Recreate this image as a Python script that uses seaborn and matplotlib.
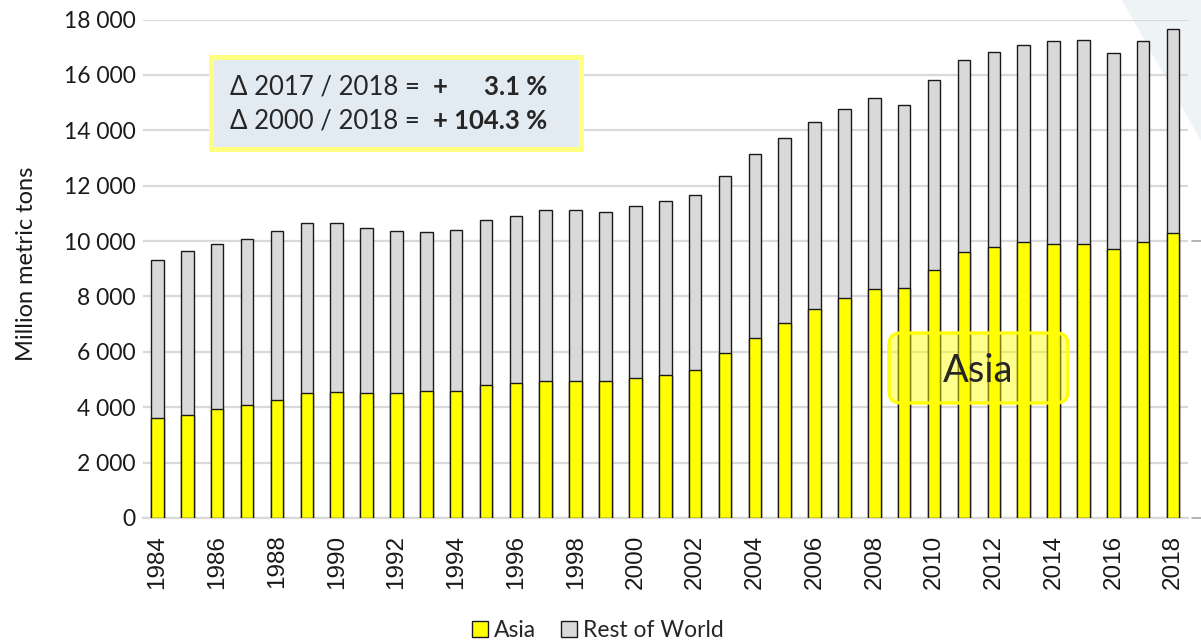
import numpy as np
import pandas as pd
import seaborn as sns
import matplotlib.pyplot as plt
from matplotlib.patches import Patch, Rectangle, FancyBboxPatch, Polygon
from matplotlib.lines import Line2D

# Data (million metric tons)
years = list(range(1984, 2019))
asia = [3600, 3720, 3950, 4070, 4270, 4520, 4550, 4520, 4530, 4600,
        4580, 4810, 4870, 4960, 4960, 4930, 5040, 5160, 5340, 5950,
        6510, 7040, 7550, 7950, 8280, 8310, 8960, 9590, 9790, 9970,
        9890, 9910, 9730, 9970, 10280]
rest_of_world = [5710, 5920, 5940, 6000, 6090, 6130, 6090, 5960, 5840, 5710,
                 5830, 5940, 6020, 6150, 6150, 6110, 6210, 6300, 6340, 6390,
                 6640, 6690, 6750, 6810, 6880, 6610, 6860, 6930, 7040, 7110,
                 7330, 7340, 7070, 7270, 7380]
yticks = list(range(0, 18001, 2000))
series_names = ["Asia", "Rest of World"]
box_lines = [("Δ 2017 / 2018 =", "+", "3.1 %"),
             ("Δ 2000 / 2018 =", "", "+ 104.3 %")]

YELLOW = "#ffff00"
GREY = "#d9d9d9"
EDGE = "#1a1a1a"
CAL = ["Lato", "DejaVu Sans"]

sns.set_style("white")
plt.rcParams["font.family"] = CAL

df = pd.DataFrame({"year": [str(y) for y in years],
                   "asia": asia,
                   "rest": rest_of_world})
df["total"] = df["asia"] + df["rest"]

fig = plt.figure(figsize=(12.01, 6.41), dpi=100)
ax = fig.add_axes([142.5 / 1201, 1 - 518 / 641, 1045.5 / 1201, 498.5 / 641])
ax.set_facecolor("none")

# light background shape in the top-right corner of the slide
fig.add_artist(Polygon([(11.22, 6.41), (12.01, 6.41), (12.01, 5.00)], closed=True,
                       transform=fig.dpi_scale_trans, facecolor="#eef3f6",
                       edgecolor="none", zorder=-5))

# stacked bars: total (grey) then Asia (yellow) on top of it
sns.barplot(data=df, x="year", y="total", color=GREY, saturation=1, width=0.42,
            edgecolor=EDGE, linewidth=1.0, ax=ax, zorder=3)
sns.barplot(data=df, x="year", y="asia", color=YELLOW, saturation=1, width=0.42,
            edgecolor=EDGE, linewidth=1.0, ax=ax, zorder=4)

ax.set_xlim(-0.5, len(years) - 0.5)
ax.set_ylim(0, 18000)
ax.set_yticks(yticks)
ax.set_yticklabels([f"{v:,}".replace(",", " ") for v in yticks], fontsize=16.5,
                   color="#1a1a1a")
ax.set_xticks(range(0, len(years), 2))
ax.set_xticklabels([str(y) for y in years[::2]], rotation=90, fontsize=17.5,
                   family=["Liberation Sans"], color="#1a1a1a")
ax.tick_params(axis="both", length=0)
ax.tick_params(axis="y", pad=5)
ax.tick_params(axis="x", pad=12)
ax.grid(axis="y", color=GREY, linewidth=1.6, zorder=0)
ax.set_axisbelow(True)
for s in ["top", "right", "left"]:
    ax.spines[s].set_visible(False)
ax.spines["bottom"].set_color(GREY)
ax.spines["bottom"].set_linewidth(1.6)
ax.set_xlabel("")
ax.set_ylabel("Million metric tons", fontsize=17, color="#1a1a1a", va="center")
ax.yaxis.set_label_coords(-0.1105, 0.51)

# small grey dashes at the right edge
for yv in [0, 10000]:
    fig.add_artist(Line2D([11.92, 12.01], [(641 - 518 + yv / 18000 * 498.5) / 100] * 2,
                          transform=fig.dpi_scale_trans, color="#a6a6a6", lw=1.2))

# change annotation box
fig.add_artist(Rectangle((2.105, 4.925), 3.70, 0.91, transform=fig.dpi_scale_trans,
                         facecolor="#e3ebf2", edgecolor="#ffff80", lw=3.6, zorder=5))
for i, (reg, plus, bold) in enumerate(box_lines):
    yb = (641 - 95 - i * 34) / 100
    fig.text(2.30, yb, reg, transform=fig.dpi_scale_trans, fontsize=18.5,
             va="baseline", ha="left", zorder=6)
    if plus:
        fig.text(4.33, yb, plus, transform=fig.dpi_scale_trans, fontsize=18.5,
                 weight="bold", va="baseline", ha="left", zorder=6)
    fig.text(5.47, yb, bold, transform=fig.dpi_scale_trans, fontsize=18.5,
             weight="bold", va="baseline", ha="right", zorder=6)

# Asia call-out
fig.add_artist(FancyBboxPatch((8.89, 2.38), 1.79, 0.70,
                              boxstyle="round,pad=0,rounding_size=0.12",
                              transform=fig.dpi_scale_trans,
                              facecolor=(1, 1, 0, 0.45), edgecolor=(1, 1, 0, 0.95),
                              lw=2.5, zorder=5))
fig.text(9.785, 2.70, "Asia", transform=fig.dpi_scale_trans, fontsize=27.5,
         ha="center", va="center", zorder=6)

handles = [Patch(facecolor=YELLOW, edgecolor=EDGE, lw=1.0),
           Patch(facecolor=GREY, edgecolor=EDGE, lw=1.0)]
fig.legend(handles, series_names, loc="center", bbox_to_anchor=(0.498, 0.016),
           ncol=2, frameon=False, fontsize=16.5, handlelength=0.7, handleheight=0.7,
           handletextpad=0.25, columnspacing=1.1)

fig.savefig("out.png", dpi=100)
